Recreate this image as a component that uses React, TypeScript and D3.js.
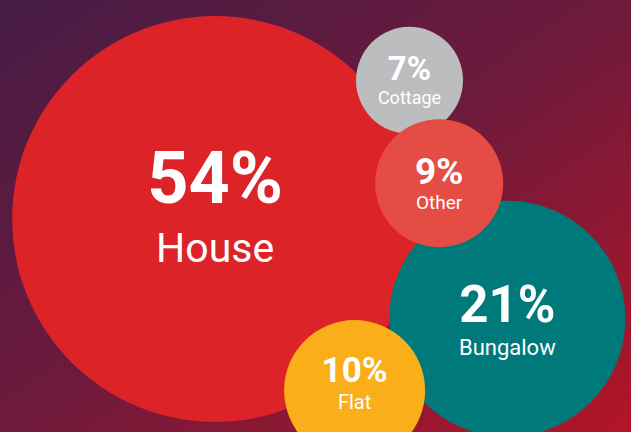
import React from "react";
import * as d3 from "d3";

const categories = ["House", "Cottage", "Bungalow", "Other", "Flat"];
const shares = [54, 7, 21, 9, 10];
const colors = ["#dc2428", "#bcbdbf", "#00797a", "#e54c44", "#f9ae1a"];

// layout (normalised 0..1 frame), radius scale, text sizes
const centerX = [0.341, 0.649, 0.804, 0.696, 0.562];
const centerY = [0.507, 0.186, 0.738, 0.424, 0.904];
const textY = [-0.037, 0.0, 0.007, 0.002, -0.019];
const pctSizes = [72, 33, 51, 37, 35];
const labelSizes = [41, 18, 22, 19, 20];
const labelGaps = [59, 24, 33, 25, 27];

const W = 631;
const H = 432;

export default function App() {
  React.useEffect(() => {
    document.body.style.margin = "0";
  }, []);
  const x = d3.scaleLinear().domain([0, 1]).range([0, W]);
  const y = d3.scaleLinear().domain([0, 1]).range([0, H]);
  const r = d3
    .scaleLinear()
    .domain([7, 9, 10, 21, 54])
    .range([53.5, 64, 70.5, 118, 203]);

  const items = categories.map((c, i) => ({
    name: c,
    value: shares[i],
    color: colors[i],
    cx: x(centerX[i]),
    cy: y(centerY[i]),
    ty: y(centerY[i] + textY[i]),
    p: pctSizes[i],
    l: labelSizes[i],
    g: labelGaps[i],
  }));

  return (
    <svg width={W} height={H} style={{ display: "block" }}>
      <defs>
        <linearGradient id="bg" x1="0" y1="0" x2="1" y2="1">
          <stop offset="0%" stopColor="#461c45" />
          <stop offset="50%" stopColor="#6e1a3c" />
          <stop offset="100%" stopColor="#b21527" />
        </linearGradient>
      </defs>
      <rect x={0} y={0} width={W} height={H} fill="url(#bg)" />
      {items.map((d) => (
        <circle key={d.name} cx={d.cx} cy={d.cy} r={r(d.value)} fill={d.color} />
      ))}
      {items.map((d) => (
        <g key={d.name + "t"} fontFamily="Roboto, sans-serif" fill="#ffffff" textAnchor="middle">
          <text x={d.cx} y={d.ty} fontSize={d.p} fontWeight={700}>
            {d.value + "%"}
          </text>
          <text x={d.cx} y={d.ty + d.g} fontSize={d.l} fontWeight={400}>
            {d.name}
          </text>
        </g>
      ))}
    </svg>
  );
}
